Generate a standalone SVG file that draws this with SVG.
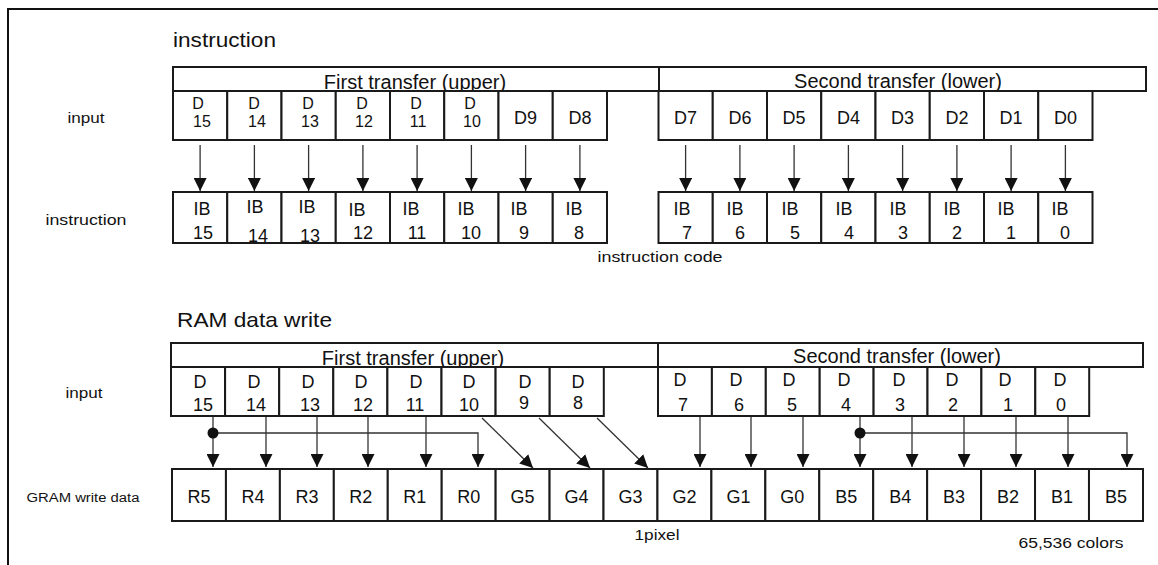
<svg xmlns="http://www.w3.org/2000/svg" width="1158" height="565" viewBox="0 0 1158 565">
<style>
.t{font-family:"Liberation Sans",Arial,sans-serif;fill:#111}
.c{font-size:18px;text-anchor:middle}
.c2{font-size:16px;text-anchor:middle}
.h{font-size:20px;text-anchor:middle}
.lb{font-size:15px;text-anchor:middle}
.box{fill:#fff;stroke:#1a1a1a;stroke-width:2}
.ln{fill:none;stroke:#333;stroke-width:1.3}
.fr{fill:none;stroke:#111;stroke-width:2}
</style>
<defs>
<marker id="ah" viewBox="0 0 13 13" refX="13" refY="6.5" markerWidth="13" markerHeight="13" markerUnits="userSpaceOnUse" orient="auto">
<path d="M0,0 L13,6.5 L0,13 z" fill="#111"/>
</marker>
</defs>
<rect width="1158" height="565" fill="#fff"/>
<g id="frame"><path class="fr" d="M8,565 L8,9 L1158,9"/></g>

<!-- Section 1 -->
<g id="title-instruction"><text class="t" x="173" y="47" font-size="21" textLength="103" lengthAdjust="spacingAndGlyphs">instruction</text></g>
<g id="lbl-input-1"><text class="t lb" x="86" y="123" textLength="37" lengthAdjust="spacingAndGlyphs">input</text></g>
<g id="lbl-instruction"><text class="t lb" x="86" y="225" textLength="81" lengthAdjust="spacingAndGlyphs">instruction</text></g>
<g id="lbl-instruction-code"><text class="t lb" x="660" y="262" textLength="125" lengthAdjust="spacingAndGlyphs">instruction code</text></g>

<g id="hdr1-first"><rect class="box" x="173" y="67" width="486" height="24"/><text class="t h" x="415" y="89">First transfer (upper)</text></g>
<g id="hdr1-second"><rect class="box" x="659" y="67" width="487" height="24"/><text class="t h" x="898" y="88">Second transfer (lower)</text></g>

<g id="in1-D15"><rect class="box" x="173" y="91" width="54.25" height="49"/><text class="t c2" x="198" y="109">D</text><text class="t c2" x="202" y="127">15</text></g>
<g id="in1-D14"><rect class="box" x="227.25" y="91" width="54.25" height="49"/><text class="t c2" x="254" y="109">D</text><text class="t c2" x="257" y="127">14</text></g>
<g id="in1-D13"><rect class="box" x="281.5" y="91" width="54.25" height="49"/><text class="t c2" x="308" y="109">D</text><text class="t c2" x="310" y="127">13</text></g>
<g id="in1-D12"><rect class="box" x="335.75" y="91" width="54.25" height="49"/><text class="t c2" x="362" y="109">D</text><text class="t c2" x="364" y="127">12</text></g>
<g id="in1-D11"><rect class="box" x="390" y="91" width="54.25" height="49"/><text class="t c2" x="416" y="109">D</text><text class="t c2" x="418" y="127">11</text></g>
<g id="in1-D10"><rect class="box" x="444.25" y="91" width="54.25" height="49"/><text class="t c2" x="470" y="109">D</text><text class="t c2" x="472" y="127">10</text></g>
<g id="in1-D9"><rect class="box" x="498.5" y="91" width="54.25" height="49"/><text class="t c" x="525.6" y="124">D9</text></g>
<g id="in1-D8"><rect class="box" x="552.75" y="91" width="54.25" height="49"/><text class="t c" x="579.9" y="124">D8</text></g>
<g id="in1-D7"><rect class="box" x="658.5" y="91" width="54.25" height="49"/><text class="t c" x="685.6" y="124">D7</text></g>
<g id="in1-D6"><rect class="box" x="712.75" y="91" width="54.25" height="49"/><text class="t c" x="739.9" y="124">D6</text></g>
<g id="in1-D5"><rect class="box" x="767" y="91" width="54.25" height="49"/><text class="t c" x="794.1" y="124">D5</text></g>
<g id="in1-D4"><rect class="box" x="821.25" y="91" width="54.25" height="49"/><text class="t c" x="848.4" y="124">D4</text></g>
<g id="in1-D3"><rect class="box" x="875.5" y="91" width="54.25" height="49"/><text class="t c" x="902.6" y="124">D3</text></g>
<g id="in1-D2"><rect class="box" x="929.75" y="91" width="54.25" height="49"/><text class="t c" x="956.9" y="124">D2</text></g>
<g id="in1-D1"><rect class="box" x="984" y="91" width="54.25" height="49"/><text class="t c" x="1011.1" y="124">D1</text></g>
<g id="in1-D0"><rect class="box" x="1038.25" y="91" width="54.25" height="49"/><text class="t c" x="1065.4" y="124">D0</text></g>

<g id="ib-15"><rect class="box" x="173" y="192" width="54.25" height="51"/><text class="t c" x="202" y="215">IB</text><text class="t c" x="203" y="239">15</text></g>
<g id="ib-14"><rect class="box" x="227.25" y="192" width="54.25" height="51"/><text class="t c" x="255" y="213">IB</text><text class="t c" x="258" y="242">14</text></g>
<g id="ib-13"><rect class="box" x="281.5" y="192" width="54.25" height="51"/><text class="t c" x="307" y="213">IB</text><text class="t c" x="310" y="242">13</text></g>
<g id="ib-12"><rect class="box" x="335.75" y="192" width="54.25" height="51"/><text class="t c" x="357" y="216">IB</text><text class="t c" x="363" y="239">12</text></g>
<g id="ib-11"><rect class="box" x="390" y="192" width="54.25" height="51"/><text class="t c" x="411" y="215">IB</text><text class="t c" x="417" y="239">11</text></g>
<g id="ib-10"><rect class="box" x="444.25" y="192" width="54.25" height="51"/><text class="t c" x="466" y="215">IB</text><text class="t c" x="471" y="239">10</text></g>
<g id="ib-9"><rect class="box" x="498.5" y="192" width="54.25" height="51"/><text class="t c" x="519" y="215">IB</text><text class="t c" x="524" y="239">9</text></g>
<g id="ib-8"><rect class="box" x="552.75" y="192" width="54.25" height="51"/><text class="t c" x="574" y="215">IB</text><text class="t c" x="579" y="239">8</text></g>
<g id="ib-7"><rect class="box" x="658.5" y="192" width="54.25" height="51"/><text class="t c" x="682" y="215">IB</text><text class="t c" x="687" y="239">7</text></g>
<g id="ib-6"><rect class="box" x="712.75" y="192" width="54.25" height="51"/><text class="t c" x="735" y="215">IB</text><text class="t c" x="740" y="239">6</text></g>
<g id="ib-5"><rect class="box" x="767" y="192" width="54.25" height="51"/><text class="t c" x="790" y="215">IB</text><text class="t c" x="795" y="239">5</text></g>
<g id="ib-4"><rect class="box" x="821.25" y="192" width="54.25" height="51"/><text class="t c" x="844" y="215">IB</text><text class="t c" x="849" y="239">4</text></g>
<g id="ib-3"><rect class="box" x="875.5" y="192" width="54.25" height="51"/><text class="t c" x="898" y="215">IB</text><text class="t c" x="903" y="239">3</text></g>
<g id="ib-2"><rect class="box" x="929.75" y="192" width="54.25" height="51"/><text class="t c" x="952" y="215">IB</text><text class="t c" x="957" y="239">2</text></g>
<g id="ib-1"><rect class="box" x="984" y="192" width="54.25" height="51"/><text class="t c" x="1006" y="215">IB</text><text class="t c" x="1011" y="239">1</text></g>
<g id="ib-0"><rect class="box" x="1038.25" y="192" width="54.25" height="51"/><text class="t c" x="1060" y="215">IB</text><text class="t c" x="1065" y="239">0</text></g>

<!-- Section 2 -->
<g id="title-ram"><text class="t" x="177" y="327" font-size="21" textLength="155" lengthAdjust="spacingAndGlyphs">RAM data write</text></g>
<g id="lbl-input-2"><text class="t lb" x="84" y="398" textLength="37" lengthAdjust="spacingAndGlyphs">input</text></g>
<g id="lbl-gram"><text class="t" x="83" y="502" font-size="12.5" text-anchor="middle" textLength="113" lengthAdjust="spacingAndGlyphs">GRAM write data</text></g>
<g id="lbl-1pixel"><text class="t lb" x="657" y="540" textLength="45" lengthAdjust="spacingAndGlyphs">1pixel</text></g>
<g id="lbl-colors"><text class="t lb" x="1071" y="548" textLength="105" lengthAdjust="spacingAndGlyphs">65,536 colors</text></g>

<g id="hdr2-first"><rect class="box" x="171" y="343" width="487" height="24"/><text class="t h" x="413" y="365">First transfer (upper)</text></g>
<g id="hdr2-second"><rect class="box" x="658" y="343" width="485" height="24"/><text class="t h" x="897" y="363">Second transfer (lower)</text></g>

<g id="in2-D15"><rect class="box" x="171" y="367" width="54.1" height="49"/><text class="t c" x="200" y="388">D</text><text class="t c" x="203" y="411">15</text></g>
<g id="in2-D14"><rect class="box" x="225.1" y="367" width="54.1" height="49"/><text class="t c" x="254" y="388">D</text><text class="t c" x="256" y="411">14</text></g>
<g id="in2-D13"><rect class="box" x="279.2" y="367" width="54.1" height="49"/><text class="t c" x="308" y="388">D</text><text class="t c" x="310" y="411">13</text></g>
<g id="in2-D12"><rect class="box" x="333.3" y="367" width="54.1" height="49"/><text class="t c" x="361" y="388">D</text><text class="t c" x="363" y="411">12</text></g>
<g id="in2-D11"><rect class="box" x="387.4" y="367" width="54.1" height="49"/><text class="t c" x="416" y="388">D</text><text class="t c" x="415" y="411">11</text></g>
<g id="in2-D10"><rect class="box" x="441.5" y="367" width="54.1" height="49"/><text class="t c" x="469" y="388">D</text><text class="t c" x="469" y="411">10</text></g>
<g id="in2-D9"><rect class="box" x="495.6" y="367" width="54.1" height="49"/><text class="t c" x="525" y="388">D</text><text class="t c" x="524" y="409">9</text></g>
<g id="in2-D8"><rect class="box" x="549.7" y="367" width="54.1" height="49"/><text class="t c" x="578" y="388">D</text><text class="t c" x="578" y="409">8</text></g>
<g id="in2-D7"><rect class="box" x="658" y="367" width="53.9" height="49"/><text class="t c" x="680" y="386">D</text><text class="t c" x="683" y="411">7</text></g>
<g id="in2-D6"><rect class="box" x="711.9" y="367" width="53.9" height="49"/><text class="t c" x="736" y="386">D</text><text class="t c" x="739" y="411">6</text></g>
<g id="in2-D5"><rect class="box" x="765.8" y="367" width="53.9" height="49"/><text class="t c" x="789" y="386">D</text><text class="t c" x="792" y="411">5</text></g>
<g id="in2-D4"><rect class="box" x="819.7" y="367" width="53.9" height="49"/><text class="t c" x="844" y="386">D</text><text class="t c" x="846" y="411">4</text></g>
<g id="in2-D3"><rect class="box" x="873.6" y="367" width="53.9" height="49"/><text class="t c" x="899" y="386">D</text><text class="t c" x="900" y="411">3</text></g>
<g id="in2-D2"><rect class="box" x="927.5" y="367" width="53.9" height="49"/><text class="t c" x="952" y="386">D</text><text class="t c" x="953" y="411">2</text></g>
<g id="in2-D1"><rect class="box" x="981.4" y="367" width="53.9" height="49"/><text class="t c" x="1005" y="386">D</text><text class="t c" x="1008" y="411">1</text></g>
<g id="in2-D0"><rect class="box" x="1035.3" y="367" width="53.9" height="49"/><text class="t c" x="1060" y="386">D</text><text class="t c" x="1061" y="411">0</text></g>

<g id="g-R5"><rect class="box" x="172" y="469" width="53.94" height="52"/><text class="t c" x="199" y="503">R5</text></g>
<g id="g-R4"><rect class="box" x="225.94" y="469" width="53.94" height="52"/><text class="t c" x="252.9" y="503">R4</text></g>
<g id="g-R3"><rect class="box" x="279.88" y="469" width="53.94" height="52"/><text class="t c" x="306.9" y="503">R3</text></g>
<g id="g-R2"><rect class="box" x="333.82" y="469" width="53.94" height="52"/><text class="t c" x="360.8" y="503">R2</text></g>
<g id="g-R1"><rect class="box" x="387.76" y="469" width="53.94" height="52"/><text class="t c" x="414.7" y="503">R1</text></g>
<g id="g-R0"><rect class="box" x="441.7" y="469" width="53.94" height="52"/><text class="t c" x="468.7" y="503">R0</text></g>
<g id="g-G5"><rect class="box" x="495.64" y="469" width="53.94" height="52"/><text class="t c" x="522.6" y="503">G5</text></g>
<g id="g-G4"><rect class="box" x="549.58" y="469" width="53.94" height="52"/><text class="t c" x="576.6" y="503">G4</text></g>
<g id="g-G3"><rect class="box" x="603.52" y="469" width="53.94" height="52"/><text class="t c" x="630.5" y="503">G3</text></g>
<g id="g-G2"><rect class="box" x="657.46" y="469" width="53.94" height="52"/><text class="t c" x="684.4" y="503">G2</text></g>
<g id="g-G1"><rect class="box" x="711.4" y="469" width="53.94" height="52"/><text class="t c" x="738.4" y="503">G1</text></g>
<g id="g-G0"><rect class="box" x="765.34" y="469" width="53.94" height="52"/><text class="t c" x="792.3" y="503">G0</text></g>
<g id="g-B5a"><rect class="box" x="819.28" y="469" width="53.94" height="52"/><text class="t c" x="846.3" y="503">B5</text></g>
<g id="g-B4"><rect class="box" x="873.22" y="469" width="53.94" height="52"/><text class="t c" x="900.2" y="503">B4</text></g>
<g id="g-B3"><rect class="box" x="927.16" y="469" width="53.94" height="52"/><text class="t c" x="954.1" y="503">B3</text></g>
<g id="g-B2"><rect class="box" x="981.1" y="469" width="53.94" height="52"/><text class="t c" x="1008.1" y="503">B2</text></g>
<g id="g-B1"><rect class="box" x="1035.04" y="469" width="53.94" height="52"/><text class="t c" x="1062" y="503">B1</text></g>
<g id="g-B5b"><rect class="box" x="1088.98" y="469" width="54.02" height="52"/><text class="t c" x="1116" y="503">B5</text></g>

<g id="connectors" class="ln" marker-end="url(#ah)">
<path d="M200.1,145 V191"/><path d="M254.4,145 V191"/><path d="M308.6,145 V191"/><path d="M362.9,145 V191"/>
<path d="M417.1,145 V191"/><path d="M471.4,145 V191"/><path d="M525.6,145 V191"/><path d="M579.9,145 V191"/>
<path d="M685.6,145 V191"/><path d="M739.9,145 V191"/><path d="M794.1,145 V191"/><path d="M848.4,145 V191"/>
<path d="M902.6,145 V191"/><path d="M956.9,145 V191"/><path d="M1011.1,145 V191"/><path d="M1065.4,145 V191"/>

<path d="M213,417 V467"/><path d="M213,433 H478 V467"/>
<path d="M266,417 V467"/><path d="M317,417 V467"/><path d="M368,417 V467"/><path d="M426,417 V467"/>
<path d="M482,418 L533,468"/><path d="M539,418 L590,468"/><path d="M597,418 L648,468"/>
<path d="M700,417 V467"/><path d="M751,417 V467"/><path d="M803,417 V467"/>
<path d="M860,417 V467"/><path d="M860,433 H1127 V467"/>
<path d="M912,417 V467"/><path d="M964,417 V467"/><path d="M1016,417 V467"/><path d="M1068,417 V467"/>
</g>
<g id="junctions" fill="#111">
<circle cx="213" cy="433" r="5.5"/><circle cx="860" cy="433" r="5.5"/>
</g>
</svg>
